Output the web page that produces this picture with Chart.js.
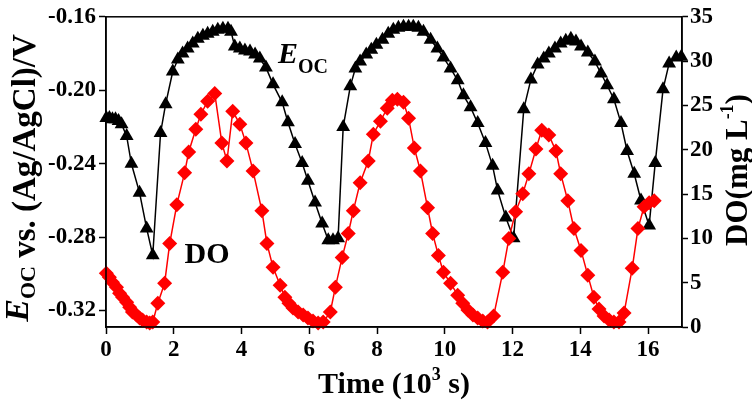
<!DOCTYPE html>
<html>
<head>
<meta charset="utf-8">
<script src="https://cdn.jsdelivr.net/npm/chart.js"></script>
<style>
  html, body { margin: 0; padding: 0; background: #fff; }
</style>
</head>
<body>
<canvas id="myChart" width="752" height="400"></canvas>
<script>
// E_OC (V vs Ag/AgCl), black triangles, left axis
const eTime = [0.01, 0.10, 0.19, 0.28, 0.37, 0.46, 0.61, 0.75, 0.99, 1.20,
  1.38, 1.61, 1.76, 1.97, 2.12, 2.26, 2.41, 2.56, 2.71, 2.86,
  3.00, 3.15, 3.30, 3.45, 3.60, 3.69, 3.80, 3.95, 4.10, 4.25,
  4.40, 4.54, 4.72, 4.93, 5.20, 5.37, 5.58, 5.79, 5.96, 6.17,
  6.38, 6.56, 6.70, 6.85, 7.00, 7.21, 7.36, 7.50, 7.68, 7.83,
  7.98, 8.16, 8.33, 8.48, 8.63, 8.78, 8.93, 9.07, 9.22, 9.37,
  9.58, 9.78, 9.96, 10.17, 10.38, 10.55, 10.76, 10.97, 11.20, 11.41,
  11.56, 11.80, 12.03, 12.33, 12.54, 12.74, 12.92, 13.07, 13.25, 13.42,
  13.57, 13.72, 13.87, 14.02, 14.22, 14.43, 14.61, 14.79, 14.99, 15.20,
  15.38, 15.59, 15.79, 16.03, 16.21, 16.44, 16.62, 16.83, 16.98];
const eValues = [-0.2152, -0.2152, -0.2158, -0.2158, -0.2168, -0.2185, -0.2250, -0.2401, -0.2558, -0.2753,
  -0.2899, -0.2233, -0.2076, -0.1898, -0.1833, -0.1800, -0.1773, -0.1746, -0.1719, -0.1703,
  -0.1692, -0.1681, -0.1670, -0.1665, -0.1665, -0.1681, -0.1762, -0.1773, -0.1784, -0.1789,
  -0.1806, -0.1827, -0.1876, -0.1968, -0.2066, -0.2174, -0.2293, -0.2396, -0.2493, -0.2612,
  -0.2726, -0.2818, -0.2818, -0.2807, -0.2201, -0.1979, -0.1881, -0.1844, -0.1806, -0.1779,
  -0.1752, -0.1725, -0.1692, -0.1670, -0.1660, -0.1654, -0.1654, -0.1654, -0.1660, -0.1681,
  -0.1725, -0.1773, -0.1822, -0.1881, -0.1946, -0.2028, -0.2093, -0.2179, -0.2287, -0.2412,
  -0.2547, -0.2693, -0.2807, -0.2103, -0.1941, -0.1860, -0.1827, -0.1800, -0.1773, -0.1746,
  -0.1730, -0.1719, -0.1735, -0.1762, -0.1795, -0.1844, -0.1909, -0.1973, -0.2049, -0.2179,
  -0.2331, -0.2455, -0.2601, -0.2737, -0.2396, -0.1995, -0.1854, -0.1822, -0.1817];

// DO (mg/L), red diamonds, right axis
const doTime = [0.01, 0.10, 0.19, 0.31, 0.40, 0.49, 0.61, 0.70, 0.78, 0.90,
  0.99, 1.08, 1.20, 1.29, 1.38, 1.53, 1.73, 1.88, 2.09, 2.32,
  2.44, 2.65, 2.80, 3.00, 3.21, 3.42, 3.57, 3.74, 3.95, 4.13,
  4.34, 4.60, 4.75, 4.93, 5.14, 5.28, 5.40, 5.52, 5.67, 5.82,
  5.96, 6.11, 6.26, 6.41, 6.62, 6.77, 6.97, 7.15, 7.30, 7.50,
  7.74, 7.89, 8.10, 8.30, 8.45, 8.60, 8.78, 8.93, 9.10, 9.28,
  9.49, 9.64, 9.81, 9.96, 10.17, 10.38, 10.53, 10.68, 10.83, 10.97,
  11.12, 11.26, 11.44, 11.71, 11.89, 12.09, 12.30, 12.48, 12.69, 12.86,
  13.07, 13.28, 13.42, 13.63, 13.81, 14.02, 14.22, 14.40, 14.55, 14.70,
  14.85, 14.99, 15.14, 15.29, 15.53, 15.70, 15.88, 16.03, 16.18];
const doValues = [6.06, 5.61, 5.05, 4.49, 3.81, 3.37, 2.80, 2.24, 1.68, 1.35,
  1.01, 0.79, 0.56, 0.45, 0.56, 2.69, 4.94, 9.42, 13.80, 17.39,
  19.74, 22.32, 24.01, 25.47, 26.36, 20.75, 18.73, 24.34, 22.89, 20.75,
  17.61, 13.13, 9.42, 6.73, 4.71, 3.37, 2.69, 2.13, 1.68, 1.35,
  1.01, 0.67, 0.45, 0.56, 1.68, 4.49, 7.85, 10.55, 13.13, 16.27,
  18.73, 21.76, 23.22, 24.68, 25.58, 25.69, 25.35, 23.56, 20.19, 17.61,
  13.46, 10.55, 8.08, 6.17, 4.94, 3.59, 2.69, 1.91, 1.35, 1.01,
  0.67, 0.56, 1.23, 6.17, 9.98, 13.01, 15.03, 17.28, 20.08, 22.21,
  21.65, 19.86, 17.28, 14.25, 11.11, 8.64, 5.83, 3.37, 2.02, 1.23,
  0.79, 0.56, 0.56, 1.57, 6.62, 11.11, 13.57, 14.02, 14.25];

const timeTicks = [0, 2, 4, 6, 8, 10, 12, 14, 16];
const eTicks = [-0.32, -0.28, -0.24, -0.20, -0.16];
const doTicks = [0, 5, 10, 15, 20, 25, 30, 35];

const serif = '"Liberation Serif", "DejaVu Serif", serif';
const tickFont = { family: serif, size: 23, weight: 'bold' };

// draws text pieces in a row (for sub/superscripts), centred on x
function drawRuns(ctx, runs, x, y) {
  let total = 0;
  runs.forEach(r => { ctx.font = r[1]; total += ctx.measureText(r[0]).width; });
  let cx = x - total / 2;
  runs.forEach(r => {
    ctx.font = r[1];
    ctx.fillText(r[0], cx, y + r[2]);
    cx += ctx.measureText(r[0]).width;
  });
}

const frameAndText = {
  id: 'frameAndText',
  afterDraw(chart) {
    const ctx = chart.ctx;
    const a = chart.chartArea;
    ctx.save();
    ctx.strokeStyle = '#000';
    ctx.lineWidth = 1.5;
    ctx.strokeRect(a.left, a.top, a.right - a.left, a.bottom - a.top);

    ctx.fillStyle = '#000';
    ctx.textAlign = 'left';
    ctx.textBaseline = 'alphabetic';

    drawRuns(ctx, [
      ['Time (10', 'bold 30px ' + serif, 0],
      ['3', 'bold 18px ' + serif, -13],
      [' s)', 'bold 30px ' + serif, 0]
    ], (a.left + a.right) / 2, 393);

    ctx.save();
    ctx.translate(35, 178);
    ctx.rotate(-Math.PI / 2);
    drawRuns(ctx, [
      ['E', 'italic bold 34px ' + serif, -7],
      ['OC', 'bold 22px ' + serif, 0],
      [' vs. (Ag/AgCl)/V', 'bold 33px ' + serif, 0]
    ], 0, 0);
    ctx.restore();

    ctx.save();
    ctx.translate(747, 170);
    ctx.rotate(-Math.PI / 2);
    drawRuns(ctx, [
      ['DO(mg L', 'bold 31px ' + serif, 0],
      ['-1', 'bold 18px ' + serif, -14],
      [')', 'bold 31px ' + serif, 0]
    ], 0, 0);
    ctx.restore();

    drawRuns(ctx, [
      ['E', 'italic bold 30px ' + serif, 0],
      ['OC', 'bold 20px ' + serif, 10]
    ], 303, 63);
    drawRuns(ctx, [['DO', 'bold 30px ' + serif, 0]], 207, 263);
    ctx.restore();
  }
};

const ctx = document.getElementById('myChart');

new Chart(ctx, {
  type: 'scatter',
  data: {
    datasets: [
      {
        label: 'DO',
        data: doTime.map((t, i) => ({ x: t, y: doValues[i] })),
        yAxisID: 'yDO',
        showLine: true,
        borderColor: '#ff0000',
        backgroundColor: '#ff0000',
        borderWidth: 1.5,
        pointStyle: 'rectRot',
        pointRadius: 7.5,
        pointBorderWidth: 0,
        clip: false,
      },
      {
        label: 'E_OC',
        data: eTime.map((t, i) => ({ x: t, y: eValues[i] })),
        yAxisID: 'yE',
        showLine: true,
        borderColor: '#000',
        backgroundColor: '#000',
        borderWidth: 1.5,
        pointStyle: 'triangle',
        pointRadius: 8,
        pointBorderWidth: 0,
        clip: false,
      },
    ],
  },
  options: {
    responsive: false,
    animation: false,
    layout: { padding: { top: 15, left: 0, right: 0, bottom: 0 } },
    plugins: {
      legend: { display: false },
      tooltip: { enabled: false },
    },
    scales: {
      x: {
        type: 'linear',
        min: 0,
        max: 17,
        afterBuildTicks: s => { s.ticks = timeTicks.map(v => ({ value: v })); },
        afterFit: s => { s.height = 73; },
        ticks: { font: tickFont, color: '#000', padding: 2, maxRotation: 0, autoSkip: false },
        grid: { drawOnChartArea: false, tickLength: 7, tickColor: '#000', tickWidth: 1.5 },
        border: { color: '#000', width: 1.5 },
      },
      yE: {
        position: 'left',
        min: -0.329,
        max: -0.16,
        afterBuildTicks: s => { s.ticks = eTicks.map(v => ({ value: v })); },
        afterFit: s => { s.width = 106; },
        ticks: { font: tickFont, color: '#000', padding: 3, callback: v => v.toFixed(2) },
        grid: { drawOnChartArea: false, tickLength: 7, tickColor: '#000', tickWidth: 1.5 },
        border: { color: '#000', width: 1.5 },
      },
      yDO: {
        position: 'right',
        min: 0,
        max: 35,
        afterBuildTicks: s => { s.ticks = doTicks.map(v => ({ value: v })); },
        afterFit: s => { s.width = 70; },
        ticks: { font: tickFont, color: '#000', padding: 2 },
        grid: { drawOnChartArea: false, tickLength: 6, tickColor: '#000', tickWidth: 1.5 },
        border: { color: '#000', width: 1.5 },
      },
    },
  },
  plugins: [frameAndText],
});
</script>
</body>
</html>
